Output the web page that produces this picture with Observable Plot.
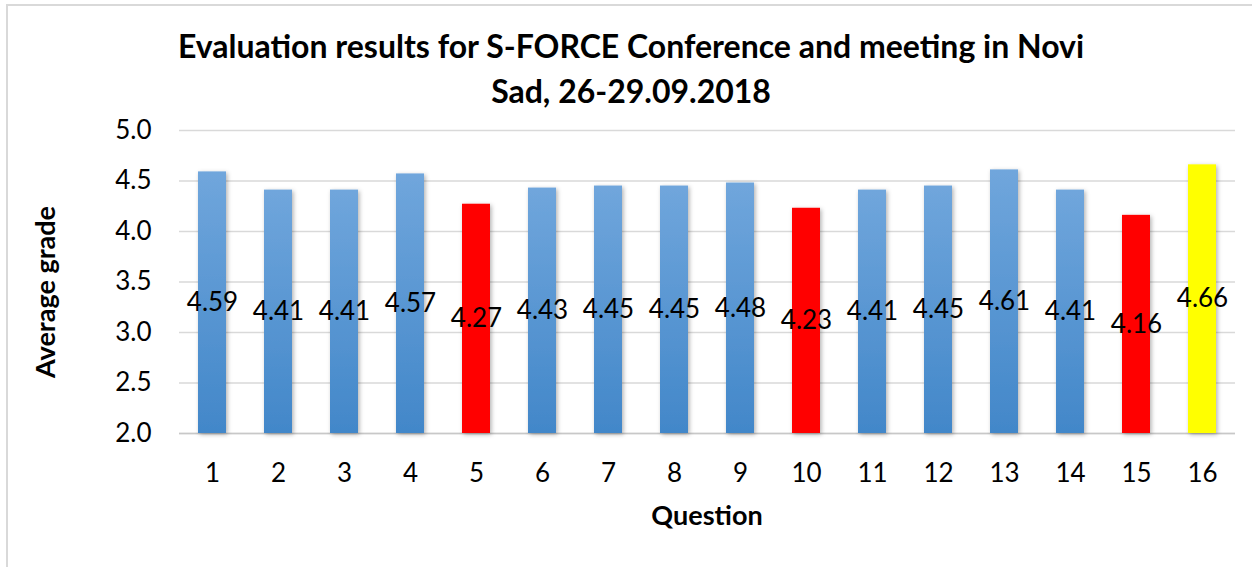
<!DOCTYPE html>
<html><head><meta charset="utf-8">
<script src="https://cdn.jsdelivr.net/npm/d3@7"></script>
<script src="https://cdn.jsdelivr.net/npm/@observablehq/plot@0.6"></script>
<style>
body{margin:0;background:#fff;}
#wrap{position:relative;width:1252px;height:567px;overflow:hidden;font-family:Lato,"Open Sans",sans-serif;color:#000;}
#border{position:absolute;left:6px;top:4px;width:1300px;height:600px;border-left:2px solid #d9d9d9;border-top:2px solid #d9d9d9;}
.title{position:absolute;left:0;width:1262px;text-align:center;font-weight:bold;font-size:32px;line-height:36px;white-space:nowrap;}
.axt{position:absolute;font-weight:bold;white-space:nowrap;transform:translate(-50%,-50%);}
#chart{position:absolute;left:0;top:110px;}
</style></head><body>
<div id="wrap">
<div id="border"></div>
<div class="title" style="top:28px">Evaluation results for S-FORCE Conference and meeting in Novi</div>
<div class="title" style="top:73px">Sad, 26-29.09.2018</div>
<div id="chart"></div>
<div class="axt" style="left:44px;top:292px;font-size:27px;transform:translate(-50%,-50%) rotate(-90deg);">Average grade</div>
<div class="axt" style="left:707px;top:514px;font-size:27px;">Question</div>
</div>
<script>
const questions = ["1","2","3","4","5","6","7","8","9","10","11","12","13","14","15","16"];
const grades = [4.59,4.41,4.41,4.57,4.27,4.43,4.45,4.45,4.48,4.23,4.41,4.45,4.61,4.41,4.16,4.66];
const barColors = ["url(#blueGrad)","url(#blueGrad)","url(#blueGrad)","url(#blueGrad)","#ff0000","url(#blueGrad)","url(#blueGrad)","url(#blueGrad)","url(#blueGrad)","#ff0000","url(#blueGrad)","url(#blueGrad)","url(#blueGrad)","url(#blueGrad)","#ff0000","#ffff00"];
const yTicks = [2.0,2.5,3.0,3.5,4.0,4.5,5.0];
const yBase = 2;

const data = questions.map((q,i)=>({q, v: grades[i], c: barColors[i]}));

const chart = Plot.plot({
  width: 1252, height: 457,
  marginLeft: 179, marginRight: 17, marginTop: 20, marginBottom: 134,
  style: {fontFamily: "Lato, 'Open Sans', sans-serif", color: "#000", background: "transparent"},
  x: {domain: questions, paddingInner: 0.576, paddingOuter: 0.288, label: null},
  y: {domain: [2, 5], label: null},
  color: {type: "identity"},
  marks: [
    Plot.gridY(yTicks, {stroke: "#d9d9d9", strokeOpacity: 1, strokeWidth: 1.5}),
    Plot.ruleY([yBase], {stroke: "#c8c8c8", strokeWidth: 1.5}),
    Plot.barY(data, {x: "q", y1: yBase, y2: "v", fill: "c"}),
    Plot.text(data, {x: "q", y: d => (yBase + d.v) / 2, text: d => d.v.toFixed(2), fontSize: 26, fill: "#000"}),
    Plot.axisY({ticks: yTicks, tickFormat: d => d.toFixed(1), tickSize: 0, tickPadding: 28, fontSize: 26, label: null}),
    Plot.axisX({tickSize: 0, tickPadding: 30, fontSize: 26, label: null})
  ]
});

const ns = "http://www.w3.org/2000/svg";
const defs = document.createElementNS(ns, "defs");
defs.innerHTML = `
<linearGradient id="blueGrad" x1="0" y1="0" x2="0" y2="1">
  <stop offset="0" stop-color="#70a6dc"/>
  <stop offset="1" stop-color="#4287c9"/>
</linearGradient>
<filter id="shadow" x="-30%" y="-10%" width="160%" height="120%">
  <feDropShadow dx="1.5" dy="1.5" stdDeviation="2" flood-color="#000" flood-opacity="0.3"/>
</filter>`;
chart.insertBefore(defs, chart.firstChild);
chart.querySelectorAll('g[aria-label="bar"] rect').forEach(r => r.setAttribute("filter", "url(#shadow)"));
document.getElementById("chart").appendChild(chart);
</script>
</body></html>
